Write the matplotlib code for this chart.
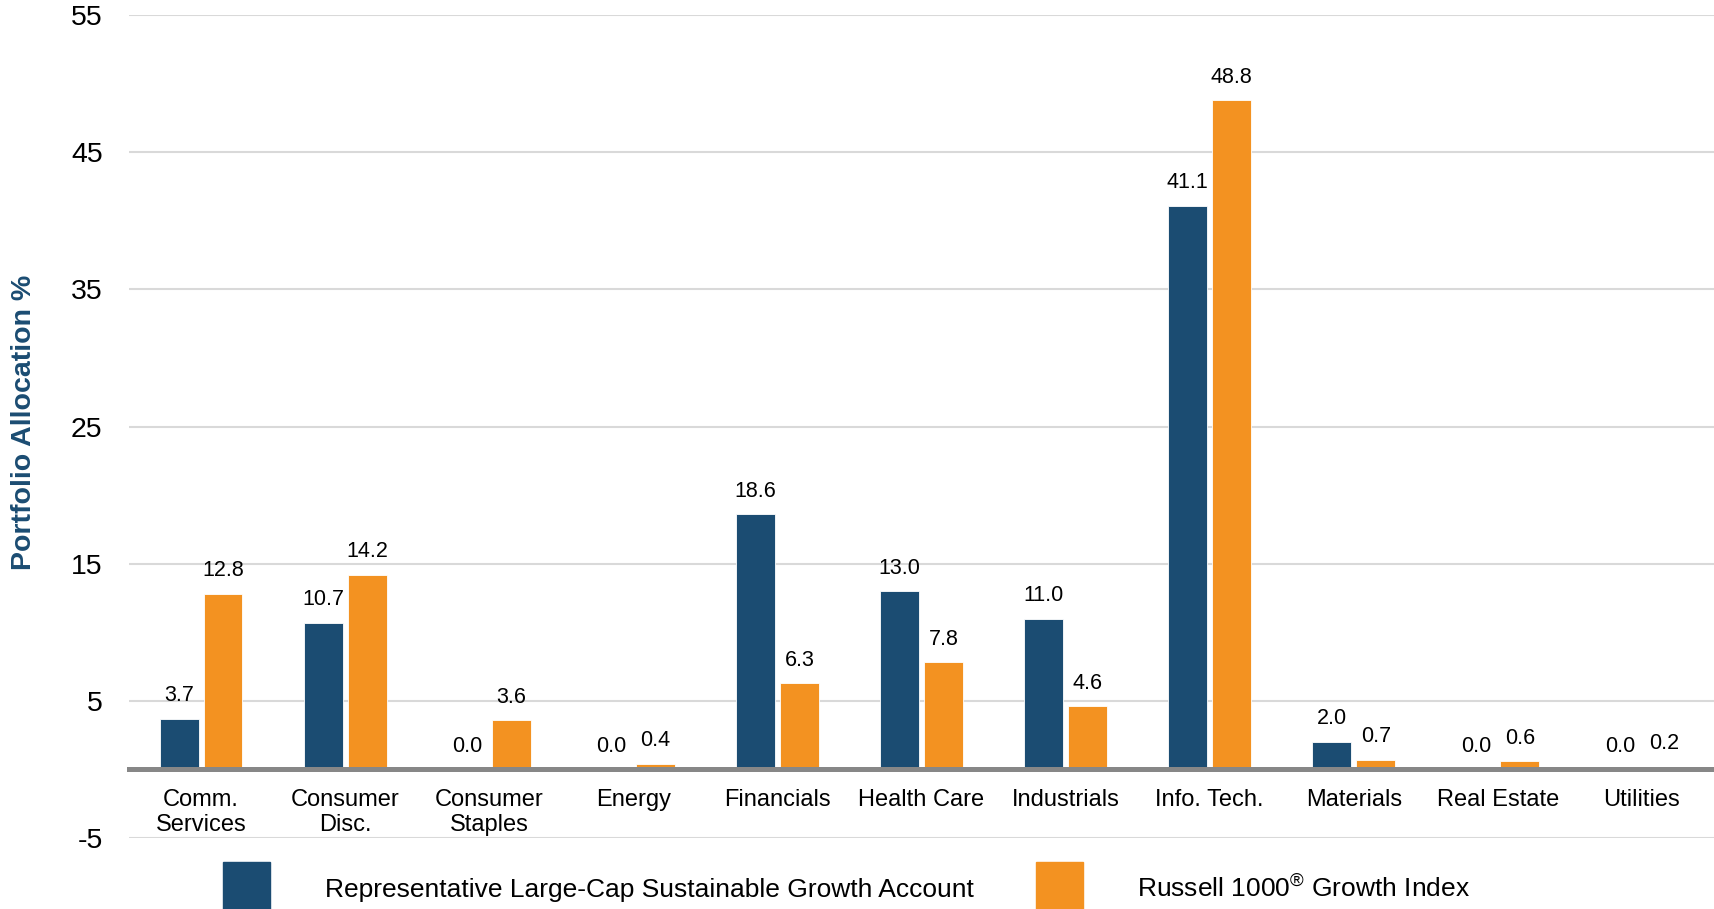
import matplotlib
matplotlib.use("Agg")
import matplotlib.pyplot as plt
from matplotlib.patches import Rectangle
import numpy as np

plt.rcParams['font.family'] = ['Liberation Sans', 'DejaVu Sans']
plt.rcParams['mathtext.fontset'] = 'custom'
plt.rcParams['mathtext.rm'] = 'Liberation Sans'

sectors = ["Comm.\nServices", "Consumer\nDisc.", "Consumer\nStaples", "Energy",
           "Financials", "Health Care", "Industrials", "Info. Tech.",
           "Materials", "Real Estate", "Utilities"]
account = [3.7, 10.7, 0.0, 0.0, 18.6, 13.0, 11.0, 41.1, 2.0, 0.0, 0.0]
index = [12.8, 14.2, 3.6, 0.4, 6.3, 7.8, 4.6, 48.8, 0.7, 0.6, 0.2]
y_ticks = [-5, 5, 15, 25, 35, 45, 55]

account_name = "Representative Large-Cap Sustainable Growth Account"
index_name = r"Russell 1000$^{\mathrm{®}}$ Growth Index"

BLUE = "#1b4c72"
ORANGE = "#f39221"

fig = plt.figure(figsize=(17.14, 9.09), dpi=100)
ax = fig.add_axes([0.0753, 0.0781, 0.9247, 0.9054])

x = np.arange(len(sectors))
w = 0.27
off = 0.152
bars1 = ax.bar(x - off, account, w, color=BLUE, edgecolor="white", linewidth=0.6)
bars2 = ax.bar(x + off, index, w, color=ORANGE, edgecolor="white", linewidth=0.6)

for bars, vals in [(bars1, account), (bars2, index)]:
    for b, v in zip(bars, vals):
        ax.annotate(f"{v:.1f}", (b.get_x() + b.get_width() / 2, v),
                    xytext=(0, 9), textcoords="offset points",
                    ha="center", va="bottom", fontsize=15.5, color="black")

ax.set_xlim(-0.5, len(sectors) - 0.5)
ax.set_ylim(-5, 55)
ax.set_yticks(y_ticks)
ax.set_yticklabels([str(t) for t in y_ticks])
ax.set_xticks(x)
ax.set_xticklabels(sectors)

ax.set_axisbelow(True)
ax.yaxis.grid(True, color="#d9d9d9", linewidth=1.5)
ax.tick_params(axis="y", length=0, pad=19, labelsize=20.5)
ax.tick_params(axis="x", length=0, pad=14, labelsize=17)
plt.setp(ax.get_xticklabels(), linespacing=1.3)

for s in ["left", "right", "top"]:
    ax.spines[s].set_visible(False)
ax.spines["bottom"].set_position(("data", 0))
ax.spines["bottom"].set_color("#878787")
ax.spines["bottom"].set_linewidth(3.6)

fig.text(0.014, 0.535, "Portfolio Allocation %", rotation=90, ha="center", va="center",
         fontsize=20.5, fontweight="bold", color=BLUE)

# legend drawn by hand so the swatches can run off the bottom edge
W, H = fig.get_size_inches() * fig.dpi
for x0, color, label, tx in [(223, BLUE, account_name, 325),
                             (1036, ORANGE, index_name, 1137)]:
    fig.patches.append(Rectangle((x0 / W, 0), 47 / W, (909 - 862) / H,
                                 transform=fig.transFigure, color=color))
    fig.text(tx / W, 1 - 897 / H, label, fontsize=19, ha="left", va="baseline")

fig.savefig("out.png", dpi=100)
